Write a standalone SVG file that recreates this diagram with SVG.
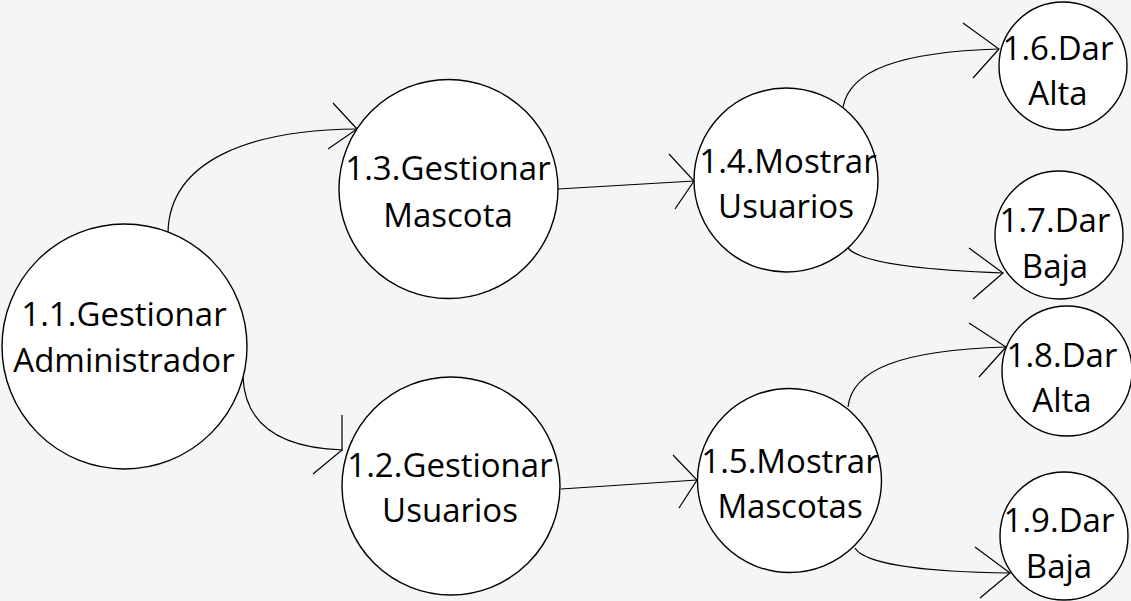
<svg xmlns="http://www.w3.org/2000/svg" width="1131" height="601" viewBox="0 0 1131 601">
<style>
.bg{fill:#f5f5f5}
.node circle{fill:#fff;stroke:#000;stroke-width:1.4}
.node text{font-family:"Open Sans","Noto Sans",sans-serif;font-size:33px;fill:#000;text-anchor:middle}
.conn path,.conn polyline{fill:none;stroke:#000;stroke-width:1.2}
</style>
<rect class="bg" x="0" y="0" width="1131" height="601"/>
<g id="connectors" class="conn">
<path d="M168,232 C170,160 250,130 357,129"/>
<polyline points="333,103 357,129 328,149"/>
<path d="M243,377 C245,425 280,448 343,450"/>
<polyline points="342,415 342,450 313,474"/>
<path d="M558,189 L694,181"/>
<polyline points="669,154 694,181 675,209"/>
<path d="M561,489 L697,480"/>
<polyline points="673,455 697,480 679,508"/>
<path d="M843,107 C850,70 900,52 999,49"/>
<polyline points="963,23 999,49 973,78"/>
<path d="M848,248 C860,262 920,270 1003,273"/>
<polyline points="969,248 1003,273 973,299"/>
<path d="M848,407 C852,370 900,350 1006,347"/>
<polyline points="969,323 1006,347 979,377"/>
<path d="M855,548 C865,565 930,572 1010,573"/>
<polyline points="975,547 1010,573 980,598"/>
</g>
<g id="n11" class="node"><circle cx="124.5" cy="346.5" r="122.5"/><text x="124" y="326">1.1.Gestionar</text><text x="124" y="372">Administrador</text></g>
<g id="n13" class="node"><circle cx="448.5" cy="189" r="109.5"/><text x="448" y="180">1.3.Gestionar</text><text x="448" y="227">Mascota</text></g>
<g id="n12" class="node"><circle cx="451" cy="486" r="109"/><text x="450" y="477">1.2.Gestionar</text><text x="450" y="522">Usuarios</text></g>
<g id="n14" class="node"><circle cx="786" cy="180" r="92"/><text x="788" y="173">1.4.Mostrar</text><text x="786" y="218">Usuarios</text></g>
<g id="n15" class="node"><circle cx="789.5" cy="480.5" r="92"/><text x="790" y="473">1.5.Mostrar</text><text x="790" y="518">Mascotas</text></g>
<g id="n16" class="node"><circle cx="1063" cy="66" r="64"/><text x="1058" y="60">1.6.Dar</text><text x="1058" y="105">Alta</text></g>
<g id="n17" class="node"><circle cx="1059" cy="235" r="64"/><text x="1055" y="232">1.7.Dar</text><text x="1055" y="278">Baja</text></g>
<g id="n18" class="node"><circle cx="1067" cy="371" r="65"/><text x="1062" y="367">1.8.Dar</text><text x="1062" y="412">Alta</text></g>
<g id="n19" class="node"><circle cx="1064" cy="536" r="64"/><text x="1059" y="532">1.9.Dar</text><text x="1059" y="578">Baja</text></g>
</svg>
